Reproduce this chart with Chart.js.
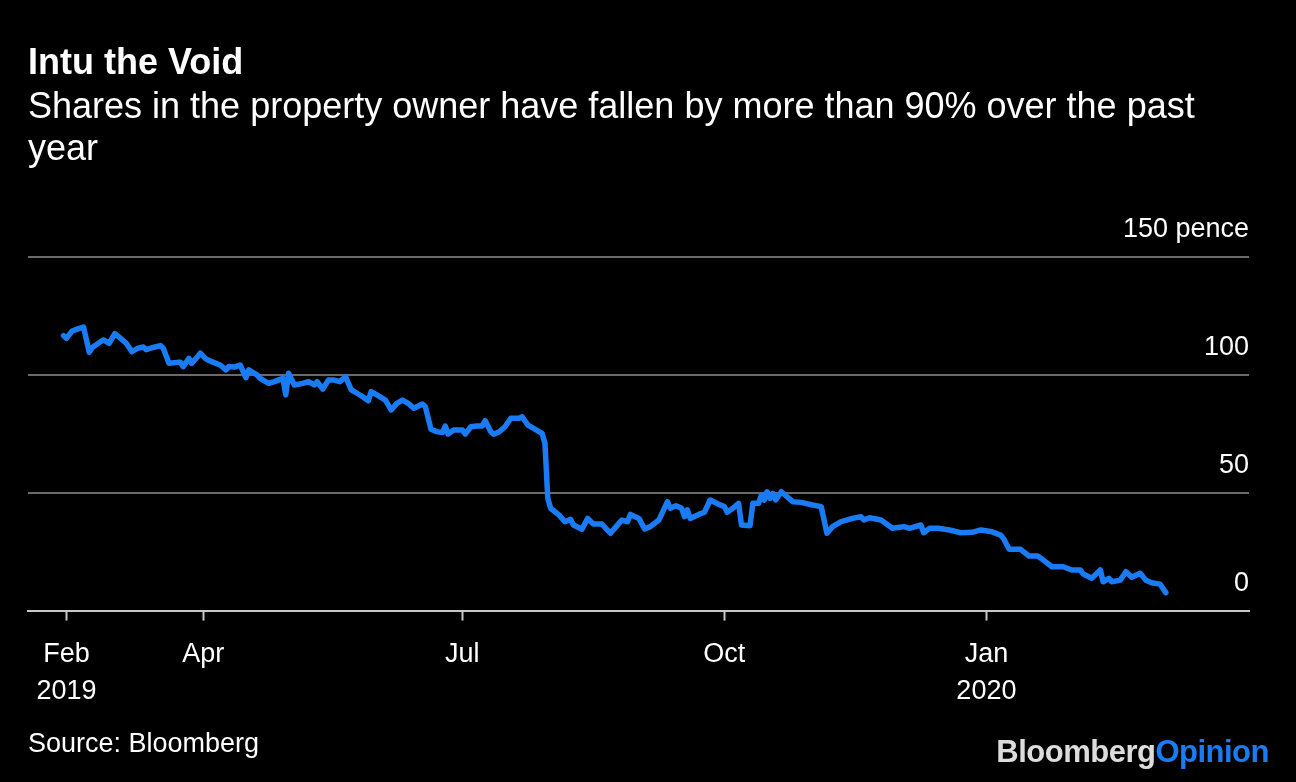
<!DOCTYPE html>
<html>
<head>
<meta charset="utf-8">
<script src="https://cdn.jsdelivr.net/npm/chart.js@4"></script>
<style>
  html, body { margin: 0; padding: 0; background: #000; }
  #wrap { position: relative; width: 1296px; height: 782px; background: #000; overflow: hidden; font-family: "Liberation Sans", Arial, sans-serif; color: #fff; }
  #chart-box { position: absolute; left: 0; top: 0; width: 1296px; height: 782px; }
  .title { position: absolute; left: 28px; top: 44px; font-size: 36px; line-height: 36px; font-weight: bold; }
  .subtitle { position: absolute; left: 28px; top: 85px; width: 1200px; font-size: 36px; line-height: 42px; }
  .source { position: absolute; left: 28px; top: 730px; font-size: 27px; line-height: 27px; }
  .logo { position: absolute; right: 27px; top: 736px; font-size: 31px; line-height: 31px; font-weight: bold; letter-spacing: -0.5px; color: #dcdcdc; }
  .logo span { color: #1a7cf5; }
</style>
</head>
<body>
<div id="wrap">
  <div id="chart-box"><canvas id="price-chart"></canvas></div>
  <div class="title">Intu the Void</div>
  <div class="subtitle">Shares in the property owner have fallen by more than 90% over the past year</div>
  <div class="source">Source: Bloomberg</div>
  <div class="logo">Bloomberg<span>Opinion</span></div>
</div>
<script>
// Intu share price, pence
const dates = [
  "2019-02-11","2019-02-12","2019-02-14","2019-02-16","2019-02-18","2019-02-20","2019-02-21","2019-02-24","2019-02-25","2019-02-27",
  "2019-03-01","2019-03-03","2019-03-05","2019-03-07","2019-03-09","2019-03-11","2019-03-12","2019-03-14","2019-03-17","2019-03-18",
  "2019-03-20","2019-03-23","2019-03-24","2019-03-25","2019-03-27","2019-03-28","2019-03-30","2019-03-31","2019-04-02","2019-04-04",
  "2019-04-07","2019-04-09","2019-04-10","2019-04-12","2019-04-14","2019-04-16","2019-04-17","2019-04-20","2019-04-21","2019-04-24",
  "2019-04-26","2019-04-29","2019-04-30","2019-05-01","2019-05-03","2019-05-06","2019-05-08","2019-05-10","2019-05-11","2019-05-13",
  "2019-05-15","2019-05-17","2019-05-19","2019-05-21","2019-05-23","2019-05-25","2019-05-27","2019-05-29","2019-05-30","2019-06-01",
  "2019-06-04","2019-06-06","2019-06-08","2019-06-10","2019-06-12","2019-06-14","2019-06-17","2019-06-18","2019-06-20","2019-06-22",
  "2019-06-24","2019-06-25","2019-06-26","2019-06-28","2019-07-01","2019-07-02","2019-07-04","2019-07-06","2019-07-08","2019-07-09",
  "2019-07-11","2019-07-12","2019-07-14","2019-07-16","2019-07-18","2019-07-21","2019-07-22","2019-07-24","2019-07-26","2019-07-29",
  "2019-07-30","2019-07-31","2019-08-01","2019-08-04","2019-08-06","2019-08-08","2019-08-09","2019-08-12","2019-08-14","2019-08-16",
  "2019-08-19","2019-08-22","2019-08-24","2019-08-26","2019-08-28","2019-08-29","2019-09-01","2019-09-03","2019-09-05","2019-09-08",
  "2019-09-11","2019-09-12","2019-09-14","2019-09-16","2019-09-17","2019-09-18","2019-09-19","2019-09-22","2019-09-24","2019-09-26",
  "2019-09-29","2019-10-01","2019-10-02","2019-10-04","2019-10-06","2019-10-07","2019-10-10","2019-10-11","2019-10-13","2019-10-14",
  "2019-10-15","2019-10-16","2019-10-17","2019-10-18","2019-10-19","2019-10-21","2019-10-23","2019-10-25","2019-10-28","2019-11-01",
  "2019-11-04","2019-11-06","2019-11-08","2019-11-11","2019-11-15","2019-11-18","2019-11-19","2019-11-21","2019-11-25","2019-11-29",
  "2019-12-03","2019-12-05","2019-12-09","2019-12-10","2019-12-12","2019-12-15","2019-12-19","2019-12-23","2019-12-27","2019-12-30",
  "2020-01-03","2020-01-06","2020-01-07","2020-01-09","2020-01-13","2020-01-16","2020-01-19","2020-01-21","2020-01-24","2020-01-28",
  "2020-01-31","2020-02-03","2020-02-04","2020-02-07","2020-02-10","2020-02-11","2020-02-13","2020-02-14","2020-02-17","2020-02-19",
  "2020-02-21","2020-02-24","2020-02-26","2020-02-28","2020-03-02","2020-03-04"
];
const prices = [
  116.6, 115.5, 118.6, 119.5, 120.3, 109.6, 111.5, 114.1, 114.8, 113.4,
  117.5, 115.5, 113.4, 109.8, 111.3, 111.8, 110.7, 111.5, 112.4, 111.3,
  104.9, 105.3, 105.3, 103.5, 107.0, 104.9, 107.7, 109.2, 106.7, 105.6,
  104.2, 102.1, 103.5, 103.3, 104.2, 98.8, 102.1, 99.9, 98.5, 96.4,
  97.1, 98.5, 91.5, 100.7, 95.7, 96.4, 97.1, 95.7, 97.1, 94.0,
  97.8, 97.8, 97.1, 99.2, 93.6, 92.2, 90.7, 89.0, 92.9, 91.5,
  89.3, 85.1, 87.9, 89.3, 87.9, 85.8, 87.6, 86.5, 76.9, 75.9,
  75.5, 78.3, 74.9, 76.6, 76.6, 74.9, 78.0, 78.3, 78.3, 80.6,
  75.9, 74.8, 75.9, 78.0, 81.6, 81.6, 82.2, 78.7, 77.3, 75.2,
  71.0, 47.6, 43.4, 40.5, 37.7, 38.7, 36.3, 34.5, 39.1, 36.7,
  36.7, 32.8, 35.6, 38.4, 37.7, 40.8, 39.1, 34.6, 35.6, 38.4,
  46.2, 43.4, 44.5, 43.4, 39.8, 42.7, 39.1, 40.8, 41.7, 46.9,
  45.1, 44.1, 41.7, 43.4, 45.5, 36.3, 36.0, 45.5, 45.5, 49.0,
  46.9, 50.4, 47.6, 49.7, 46.9, 50.4, 48.3, 46.2, 45.9, 44.8,
  44.1, 32.8, 35.6, 37.7, 39.1, 39.8, 38.4, 39.4, 38.4, 34.9,
  35.6, 34.9, 36.3, 33.0, 34.9, 34.9, 34.2, 33.0, 33.2, 34.2,
  33.4, 32.0, 30.6, 26.0, 26.0, 23.1, 23.1, 21.4, 18.6, 18.6,
  17.2, 17.2, 15.5, 13.7, 17.2, 12.2, 13.7, 12.2, 12.9, 16.5,
  14.1, 15.8, 12.9, 11.8, 11.2, 7.6
];

const tickDates = ["2019-02-12", "2019-04-01", "2019-07-01", "2019-10-01", "2020-01-01"];
const tickLabels = [["Feb", "2019"], ["Apr"], ["Jul"], ["Oct"], ["Jan", "2020"]];
const yTicks = [0, 50, 100, 150];
const xRange = ["2019-01-30", "2020-04-03"];

// days since 1 Jan 2019, so a plain linear axis can be used (no date adapter)
const DAY0 = Date.UTC(2019, 0, 1);
function dayOf(s) {
    return (Date.parse(s + "T00:00:00Z") - DAY0) / 86400000;
}

const points = [];
for (let i = 0; i < dates.length; i++) {
    points.push({ x: dayOf(dates[i]), y: prices[i] });
}

new Chart(document.getElementById("price-chart"), {
    type: "line",
    data: {
        datasets: [{
            data: points,
            borderColor: "#1a7cf5",
            borderWidth: 5.5,
            pointRadius: 0,
            tension: 0,
            borderJoinStyle: "round",
            borderCapStyle: "round"
        }]
    },
    options: {
        responsive: true,
        maintainAspectRatio: false,
        animation: false,
        layout: {
            padding: { left: 28, right: 47, top: 257, bottom: 56 }
        },
        plugins: {
            legend: { display: false },
            tooltip: { enabled: false }
        },
        scales: {
            x: {
                type: "linear",
                min: dayOf(xRange[0]) - 0.5,
                max: dayOf(xRange[1]) - 0.8,
                afterBuildTicks: (scale) => {
                    scale.ticks = tickDates.map(d => ({ value: dayOf(d) }));
                },
                border: { display: true, color: "#c8c8c8", width: 2 },
                grid: {
                    drawOnChartArea: false,
                    drawTicks: true,
                    tickLength: 10,
                    tickWidth: 2,
                    color: "#c8c8c8"
                },
                ticks: {
                    autoSkip: false,
                    maxRotation: 0,
                    padding: 16,
                    color: "#ffffff",
                    font: { family: "Liberation Sans", size: 27, lineHeight: 1.36 },
                    callback: (value, index) => tickLabels[index]
                }
            },
            y: {
                position: "right",
                min: 0,
                max: 150,
                afterBuildTicks: (scale) => {
                    scale.ticks = yTicks.map(v => ({ value: v }));
                },
                border: { display: false },
                grid: {
                    drawTicks: false,
                    color: "#6a6a6a",
                    lineWidth: 2
                },
                ticks: {
                    mirror: true,
                    padding: 0,
                    labelOffset: -27,
                    color: "#ffffff",
                    font: { family: "Liberation Sans", size: 27 },
                    callback: (value) => value === 150 ? "150 pence" : String(value)
                }
            }
        }
    }
});
</script>
</body>
</html>
